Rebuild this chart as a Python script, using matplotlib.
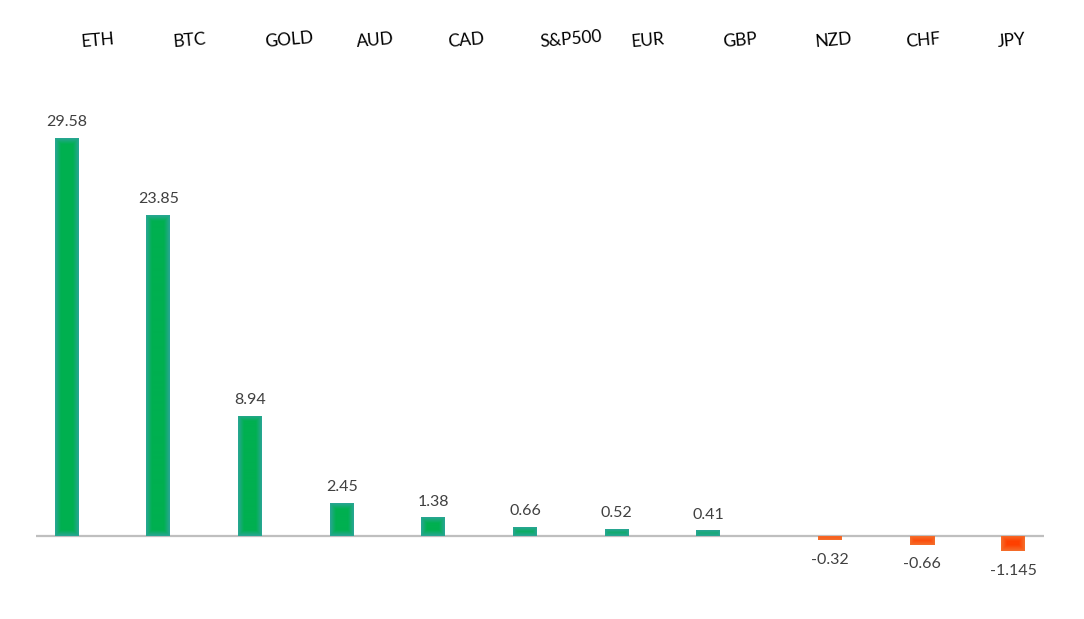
import numpy as np
import matplotlib
matplotlib.use("Agg")
import matplotlib.pyplot as plt
from matplotlib.colors import to_rgb
import matplotlib.transforms as mtransforms

categories = ['ETH', 'BTC', 'GOLD', 'AUD', 'CAD', 'S&P500', 'EUR', 'GBP', 'NZD', 'CHF', 'JPY']
values = [29.58, 23.85, 8.94, 2.45, 1.38, 0.66, 0.52, 0.41, -0.32, -0.66, -1.145]

W, H = 1084, 619
fig = plt.figure(figsize=(W / 100, H / 100), dpi=100)
# axes spans pixel x 36..1044, pixel y 100..600 (from top)
ax = fig.add_axes([36 / W, (H - 600) / H, 1008 / W, 500 / H])
pxu = 536 - 138  # pixels for ETH value
scale = pxu / values[0]
ytop = (536 - 100) / scale
ybot = -(600 - 536) / scale
ax.set_xlim(-0.5, len(categories) - 0.5)
ax.set_ylim(ybot, ytop)
for s in ax.spines.values():
    s.set_visible(False)
ax.set_xticks([])
ax.set_yticks([])

font = 'Lato'
bw = 24 / (1008 / 11)
off = 15 / (1008 / 11)

pos_center, pos_edge = to_rgb('#00B050'), to_rgb('#2BA597')
neg_center, neg_edge = to_rgb('#FF4000'), to_rgb('#F4702E')

ax.axhline(0, color='#BFBFBF', lw=1.6, zorder=1)

pxx = 1008 / 11
for i, v in enumerate(values):
    x = i - off if v >= 0 else i + off
    bars = ax.bar(x, v, width=bw, color=pos_center if v >= 0 else neg_center, zorder=2, linewidth=0)
    rect = bars[0]
    c_in, c_out = (pos_center, pos_edge) if v >= 0 else (neg_center, neg_edge)
    wp = bw * pxx
    hp = max(abs(v) * scale, 1)
    nx, ny = max(int(wp * 2), 2), max(int(hp * 2), 2)
    u = (np.arange(nx) + 0.5) / nx * wp
    w_ = (np.arange(ny) + 0.5) / ny * hp
    U, V = np.meshgrid(u, w_)
    d = np.minimum(np.minimum(U, wp - U), np.minimum(V, hp - V))
    t = np.clip(d / 6.0, 0, 1)[..., None]
    img = np.array(c_out) * (1 - t) + np.array(c_in) * t
    y0, y1 = (0, v) if v >= 0 else (v, 0)
    im = ax.imshow(img, extent=[x - bw / 2, x + bw / 2, y0, y1], aspect='auto',
                   origin='lower', interpolation='bilinear', zorder=3)
    im.set_clip_path(rect)
    lab = f"{v:g}"
    if v >= 0:
        ax.annotate(lab, (x, v), xytext=(0, 11.3), textcoords='offset points',
                    ha='center', va='center', fontsize=11.5, color='#404040', family=font)
    else:
        ax.annotate(lab, (x, v), xytext=(0, -14), textcoords='offset points',
                    ha='center', va='center', fontsize=11.5, color='#404040', family=font)

ax.set_xlim(-0.5, len(categories) - 0.5)
ax.set_ylim(ybot, ytop)

trans = mtransforms.blended_transform_factory(ax.transData, fig.transFigure)
for i, c in enumerate(categories):
    fig.text(i, 1 - 47 / H, c, transform=trans, ha='left', va='baseline',
             rotation=5, rotation_mode='anchor', fontsize=12.5, color='black', family=font)

fig.savefig('out.png', dpi=100)
